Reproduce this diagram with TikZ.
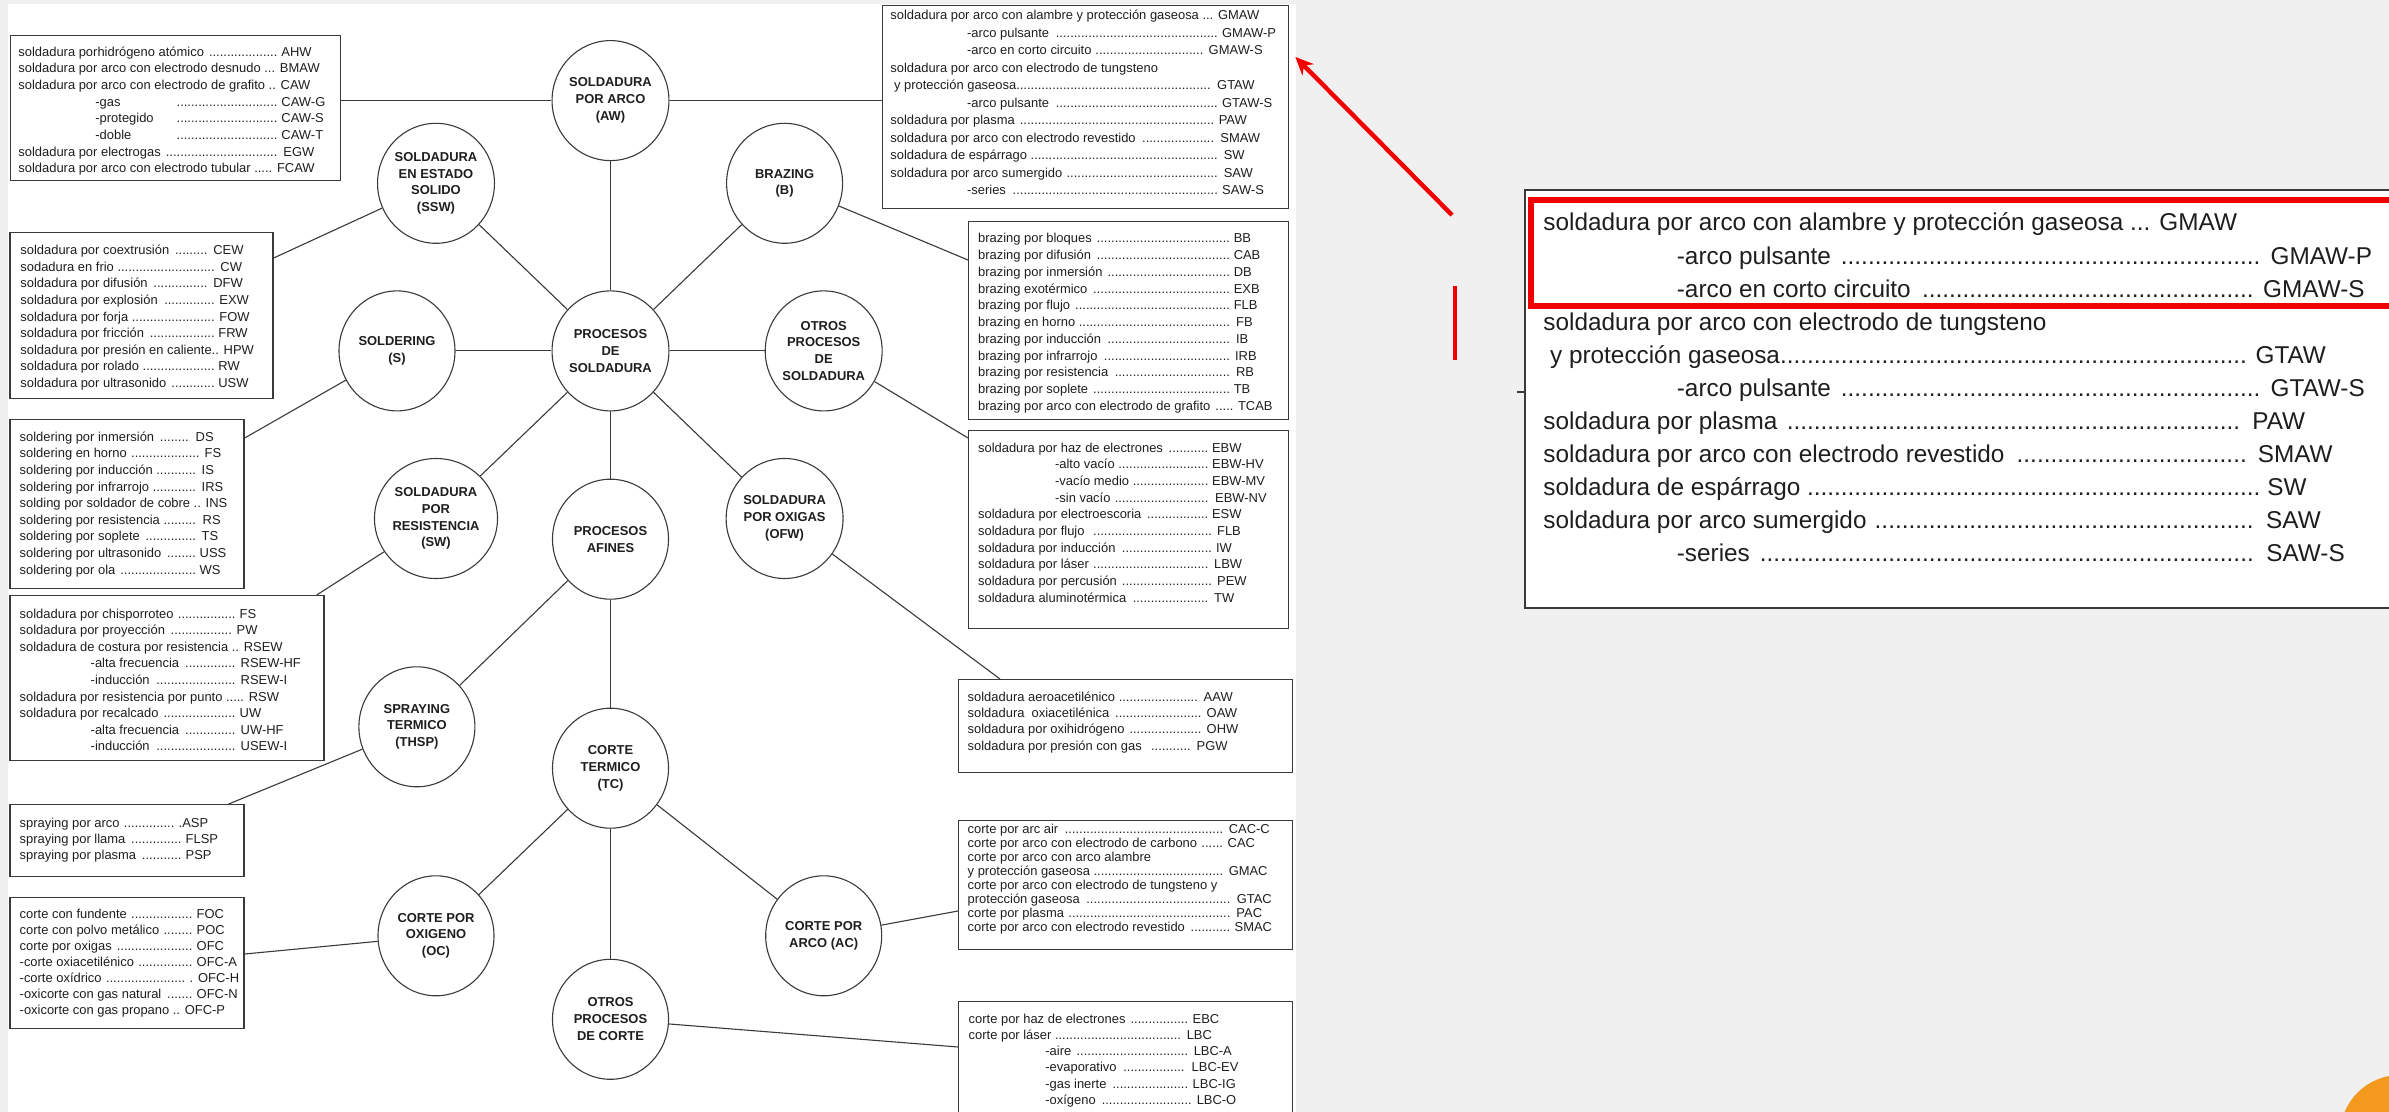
\documentclass[tikz,border=0pt]{standalone}
\usepackage{fontspec}
\setmainfont{Liberation Sans}
\usepackage{graphicx}
\usetikzlibrary{shapes.geometric,calc,arrows.meta}
\definecolor{bgc}{HTML}{F0F0F0}
\definecolor{linec}{HTML}{3A3A3A}
\definecolor{txtc}{HTML}{1E1E1E}
\definecolor{redc}{HTML}{F20000}
\definecolor{orc}{HTML}{F39A1E}
\newlength\pxu \setlength\pxu{0.5pt}
\newcommand\mydots{\leaders\hbox to 0.278em{\hss.\hss}\hfill}
\newcommand\Lrow[3]{\makebox[#1\pxu][l]{#2\ \mydots\ }#3\par}
\newcommand\Nrow[3]{\makebox[#1\pxu][l]{#2\mydots\ }#3\par}
\newcommand\Irow[4]{\makebox[#1\pxu][l]{\hspace*{#2\pxu}#3\ \mydots\ }#4\par}
\newcommand\Grow[5]{\makebox[#1\pxu][l]{\hspace*{#2\pxu}\makebox[\dimexpr#4\pxu-#2\pxu\relax][l]{#3}\mydots\ }#5\par}
\newcommand\Trow[1]{\mbox{#1}\par}
\newcommand\lsz[1]{\fontsize{6.47pt}{#1}\selectfont}
\newcommand\boxseven{\parbox[t]{420\pxu}{\lsz{8.75pt}%
\Trow{soldadura por arco con alambre y protección gaseosa ... GMAW}
\Irow{331.7}{76.7}{-arco pulsante}{GMAW-P}
\Irow{318.3}{76.7}{-arco en corto circuito}{GMAW-S}
\Trow{soldadura por arco con electrodo de tungsteno}
\Nrow{326.7}{\ y protección gaseosa}{GTAW}
\Irow{331.7}{76.7}{-arco pulsante}{GTAW-S}
\Lrow{328.3}{soldadura por plasma}{PAW}
\Lrow{330}{soldadura por arco con electrodo revestido}{SMAW}
\Lrow{333.3}{soldadura de espárrago}{SW}
\Lrow{333.3}{soldadura por arco sumergido}{SAW}
\Irow{331.7}{76.7}{-series}{SAW-S}}}
\newcommand\panelseven{\parbox[t]{460\pxu}{\lsz{8.78pt}%
\Trow{soldadura por arco con alambre y protección gaseosa ... GMAW}
\Irow{386.7}{71}{-arco pulsante}{GMAW-P}
\Irow{382.8}{71}{-arco en corto circuito}{GMAW-S}
\Trow{soldadura por arco con electrodo de tungsteno}
\Nrow{378.7}{\ y protección gaseosa}{GTAW}
\Irow{386.7}{71}{-arco pulsante}{GTAW-S}
\Lrow{377}{soldadura por plasma}{PAW}
\Lrow{380}{soldadura por arco con electrodo revestido}{SMAW}
\Lrow{385}{soldadura de espárrago}{SW}
\Lrow{384.4}{soldadura por arco sumergido}{SAW}
\Irow{384.4}{71}{-series}{SAW-S}}}
\tikzset{
  circ/.style={ellipse, draw=linec, line width=0.55pt, minimum width=58pt, minimum height=60pt,
    inner sep=0pt, align=center, fill=white, text=txtc,
    font=\fontsize{6.47pt}{8.4pt}\selectfont\bfseries},
  listbox/.style={draw=linec, line width=0.7pt, anchor=north west, inner sep=0pt, fill=white},
  conn/.style={draw=linec, line width=0.55pt},
  txt/.style={inner sep=0pt, anchor=base west, text=txtc},
}
\begin{document}
\begin{tikzpicture}[x=0.5pt,y=-0.5pt]
\useasboundingbox (0,0) rectangle (2389,1112);
\fill[bgc] (0,0) rectangle (2389,1112);
\fill[white] (8,4) rectangle (1296,1112);

% ---- circles
\node[circ] (aw)   at (610.5,100.6) {SOLDADURA\\POR ARCO\\(AW)};
\node[circ] (ssw)  at (436,183.3)   {SOLDADURA\\EN ESTADO\\SOLIDO\\(SSW)};
\node[circ] (b)    at (784.6,183.3) {BRAZING\\(B)};
\node[circ] (s)    at (397,350.9)   {SOLDERING\\(S)};
\node[circ] (ps)   at (610.5,350.9) {PROCESOS\\DE\\SOLDADURA};
\node[circ] (ops)  at (823.7,350.9) {OTROS\\PROCESOS\\DE\\SOLDADURA};
\node[circ] (rw)   at (436,518.5)   {SOLDADURA\\POR\\RESISTENCIA\\(SW)};
\node[circ] (pa)   at (610.5,539.2) {PROCESOS\\AFINES};
\node[circ] (ofw)  at (784.6,518.5) {SOLDADURA\\POR OXIGAS\\(OFW)};
\node[circ] (thsp) at (416.9,726.8) {SPRAYING\\TERMICO\\(THSP)};
\node[circ] (tc)   at (610.5,768.2) {CORTE\\TERMICO\\(TC)};
\node[circ] (oc)   at (436,935.8)   {CORTE POR\\OXIGENO\\(OC)};
\node[circ] (ac)   at (823.7,935.8) {CORTE POR\\ARCO (AC)};
\node[circ] (opc)  at (610.5,1019.3){OTROS\\PROCESOS\\DE CORTE};

% ---- boxes
\node[listbox, minimum width=330\pxu, minimum height=145\pxu] (b1) at (10,35) {};
\node[listbox, minimum width=263\pxu, minimum height=166\pxu] (b2) at (9.3,232) {};
\node[listbox, minimum width=234\pxu, minimum height=169\pxu] (b3) at (9.3,419) {};
\node[listbox, minimum width=314\pxu, minimum height=165\pxu] (b4) at (9.3,595) {};
\node[listbox, minimum width=234\pxu, minimum height=72\pxu]  (b5) at (9.3,804) {};
\node[listbox, minimum width=234\pxu, minimum height=131\pxu] (b6) at (9.3,897) {};
\node[listbox, minimum width=406\pxu, minimum height=203\pxu] (b7) at (882,5) {};
\node[listbox, minimum width=320\pxu, minimum height=198\pxu] (b8) at (968,221) {};
\node[listbox, minimum width=320\pxu, minimum height=198\pxu] (b9) at (968,430) {};
\node[listbox, minimum width=334\pxu, minimum height=93\pxu]  (b10) at (958,679) {};
\node[listbox, minimum width=334\pxu, minimum height=129\pxu] (b11) at (958,820) {};
\node[listbox, minimum width=334\pxu, minimum height=130\pxu] (b12) at (958,1001) {};

% ---- box texts
\node[txt] (t1) at (18,56.3) {\parbox[t]{400\pxu}{\lsz{8.33pt}%
\Lrow{263}{soldadura porhidrógeno atómico}{AHW}
\Trow{soldadura por arco con electrodo desnudo ... BMAW}
\Trow{soldadura por arco con electrodo de grafito .. CAW}
\Grow{263}{77}{-gas}{157}{CAW-G}
\Grow{263}{77}{-protegido}{157}{CAW-S}
\Grow{263}{77}{-doble}{157}{CAW-T}
\Lrow{265}{soldadura por electrogas}{EGW}
\Trow{soldadura por arco con electrodo tubular ..... FCAW}}};

\node[txt] (t2) at (20,254.7) {\parbox[t]{400\pxu}{\lsz{8.3pt}%
\Lrow{193}{soldadura por coextrusión}{CEW}
\Lrow{200}{sodadura en frio}{CW}
\Lrow{193}{soldadura por difusión}{DFW}
\Lrow{199}{soldadura por explosión}{EXW}
\Lrow{199}{soldadura por forja}{FOW}
\Lrow{198}{soldadura por fricción}{FRW}
\Trow{soldadura por presión en caliente.. HPW}
\Lrow{198}{soldadura por rolado}{RW}
\Lrow{198}{soldadura por ultrasonido}{USW}}};

\node[txt] (t3) at (19.3,441.3) {\parbox[t]{400\pxu}{\lsz{8.3pt}%
\Lrow{176}{soldering por inmersión}{DS}
\Lrow{185}{soldering en horno}{FS}
\Lrow{182}{soldering por inducción}{IS}
\Lrow{182}{soldering por infrarrojo}{IRS}
\Trow{solding por soldador de cobre .. INS}
\Lrow{183}{soldering por resistencia}{RS}
\Lrow{182}{soldering por soplete}{TS}
\Lrow{180}{soldering por ultrasonido}{USS}
\Lrow{180}{soldering por ola}{WS}}};

\node[txt] (t4) at (19.3,618) {\parbox[t]{400\pxu}{\lsz{8.3pt}%
\Lrow{220}{soldadura por chisporroteo}{FS}
\Lrow{217}{soldadura por proyección}{PW}
\Trow{soldadura de costura por resistencia .. RSEW}
\Irow{221}{71}{-alta frecuencia}{RSEW-HF}
\Irow{221}{71}{-inducción}{RSEW-I}
\Trow{soldadura por resistencia por punto ..... RSW}
\Lrow{220}{soldadura por recalcado}{UW}
\Irow{221}{71}{-alta frecuencia}{UW-HF}
\Irow{221}{71}{-inducción}{USEW-I}}};

\node[txt] (t5) at (19.3,827) {\parbox[t]{400\pxu}{\lsz{8pt}%
\Lrow{159}{spraying por arco}{.ASP}
\Lrow{166}{spraying por llama}{FLSP}
\Lrow{166}{spraying por plasma}{PSP}}};

\node[txt] (t6) at (19.3,918.7) {\parbox[t]{400\pxu}{\lsz{8pt}%
\Lrow{177}{corte con fundente}{FOC}
\Lrow{177}{corte con polvo metálico}{POC}
\Lrow{177}{corte por oxigas}{OFC}
\Lrow{177}{-corte oxiacetilénico}{OFC-A}
\Lrow{170}{-corte oxídrico}{. OFC-H}
\Lrow{177}{-oxicorte con gas natural}{OFC-N}
\Trow{-oxicorte con gas propano .. OFC-P}}};

\node[txt] (t7) at (890,19.7) {\boxseven};

\node[txt] (t8) at (977.7,243) {\parbox[t]{400\pxu}{\lsz{8.37pt}%
\Lrow{255.6}{brazing por bloques}{BB}
\Lrow{255.6}{brazing por difusión}{CAB}
\Lrow{255.6}{brazing por inmersión}{DB}
\Lrow{255.6}{brazing exotérmico}{EXB}
\Lrow{255.6}{brazing por flujo}{FLB}
\Lrow{258}{brazing en horno}{FB}
\Lrow{258}{brazing por inducción}{IB}
\Lrow{257}{brazing por infrarrojo}{IRB}
\Lrow{258}{brazing por resistencia}{RB}
\Lrow{255.6}{brazing por soplete}{TB}
\Lrow{260}{brazing por arco con electrodo de grafito}{TCAB}}};

\node[txt] (t9) at (977.7,452.3) {\parbox[t]{400\pxu}{\lsz{8.33pt}%
\Lrow{234}{soldadura por haz de electrones}{EBW}
\Irow{234}{77}{-alto vacío}{EBW-HV}
\Irow{234}{77}{-vacío medio}{EBW-MV}
\Irow{237}{77}{-sin vacío}{EBW-NV}
\Lrow{234}{soldadura por electroescoria}{ESW}
\Lrow{239}{soldadura por flujo\ }{FLB}
\Lrow{238}{soldadura por inducción}{IW}
\Lrow{236}{soldadura por láser}{LBW}
\Lrow{239}{soldadura por percusión}{PEW}
\Lrow{236}{soldadura aluminotérmica}{TW}}};

\node[txt] (t10) at (967.3,701.3) {\parbox[t]{400\pxu}{\lsz{8.15pt}%
\Lrow{236}{soldadura aeroacetilénico}{AAW}
\Lrow{239}{soldadura\ \ oxiacetilénica}{OAW}
\Lrow{239}{soldadura por oxihidrógeno}{OHW}
\Lrow{229}{soldadura por presión con gas\ }{PGW}}};

\node[txt] (t11) at (967.3,833.6) {\parbox[t]{400\pxu}{\lsz{7pt}%
\Lrow{261}{corte por arc air}{CAC-C}
\Lrow{260}{corte por arco con electrodo de carbono}{CAC}
\Trow{corte por arco con arco alambre}
\Lrow{261}{y protección gaseosa}{GMAC}
\Trow{corte por arco con electrodo de tungsteno y}
\Lrow{269}{protección gaseosa}{GTAC}
\Lrow{268.7}{corte por plasma}{PAC}
\Lrow{267}{corte por arco con electrodo revestido}{SMAC}}};

\node[txt] (t12) at (968.3,1023) {\parbox[t]{400\pxu}{\lsz{8.15pt}%
\Lrow{224}{corte por haz de electrones}{EBC}
\Lrow{218}{corte por láser}{LBC}
\Irow{225}{76.7}{-aire}{LBC-A}
\Irow{223}{76.7}{-evaporativo}{LBC-EV}
\Irow{224}{76.7}{-gas inerte}{LBC-IG}
\Irow{228}{76.7}{-oxígeno}{LBC-O}}};

% ---- connectors
\draw[conn] (ps) -- (aw);
\draw[conn] (ps) -- (ssw);
\draw[conn] (ps) -- (b);
\draw[conn] (ps) -- (s);
\draw[conn] (ps) -- (ops);
\draw[conn] (ps) -- (rw);
\draw[conn] (ps) -- (ofw);
\draw[conn] (ps) -- (pa);
\draw[conn] (pa) -- (thsp);
\draw[conn] (pa) -- (tc);
\draw[conn] (tc) -- (oc);
\draw[conn] (tc) -- (ac);
\draw[conn] (tc) -- (opc);
\draw[conn] (aw) -- (aw -| b1.east);
\draw[conn] (aw) -- (aw -| b7.west);
\draw[conn] (ssw) -- ($(b2.north east)+(0,26)$);
\draw[conn] (s) -- ($(b3.north east)+(0,19)$);
\draw[conn] (rw) -- ($(b4.north east)+(-8,0)$);
\draw[conn] (thsp) -- ($(b5.north east)+(-16,0)$);
\draw[conn] (oc) -- ($(b6.north east)+(0,57)$);
\draw[conn] (b) -- ($(b8.north west)+(0,39)$);
\draw[conn] (ops) -- ($(b9.north west)+(0,8)$);
\draw[conn] (ofw) -- ($(b10.north west)+(42,0)$);
\draw[conn] (ac) -- ($(b11.north west)+(0,91)$);
\draw[conn] (opc) -- ($(b12.north west)+(0,46)$);

% ---- magnified panel
\node[draw=linec, line width=1pt, fill=white, anchor=north west, inner sep=0pt,
      minimum width=900\pxu, minimum height=418\pxu] (pan) at (1524,189) {};
\node[txt] (pant) at (1543,231) {\scalebox{1.88}{\panelseven}};
\node[draw=redc, line width=2.8pt, anchor=north west, inner sep=0pt,
      minimum width=900\pxu, minimum height=106\pxu] (hl) at (1528,197.5) {};
\coordinate (stub) at (1517,392);
\draw[linec, line width=1pt] (stub) -- (stub -| pan.west);

% ---- red pointer
\coordinate (rs) at (1452,215);
\coordinate (rtip) at ($(b7.north east)+(6,52)$);
\draw[redc, line width=2.2pt, -{Stealth[length=9pt,width=8pt]}] (rs) -- (rtip);
\coordinate (rv1) at (1455,286);
\coordinate (rv2) at (1455,360);
\draw[redc, line width=2.2pt] (rv1) -- (rv2);

% ---- orange disc
\fill[orc] (2400,1135) circle (60);
\end{tikzpicture}
\end{document}
